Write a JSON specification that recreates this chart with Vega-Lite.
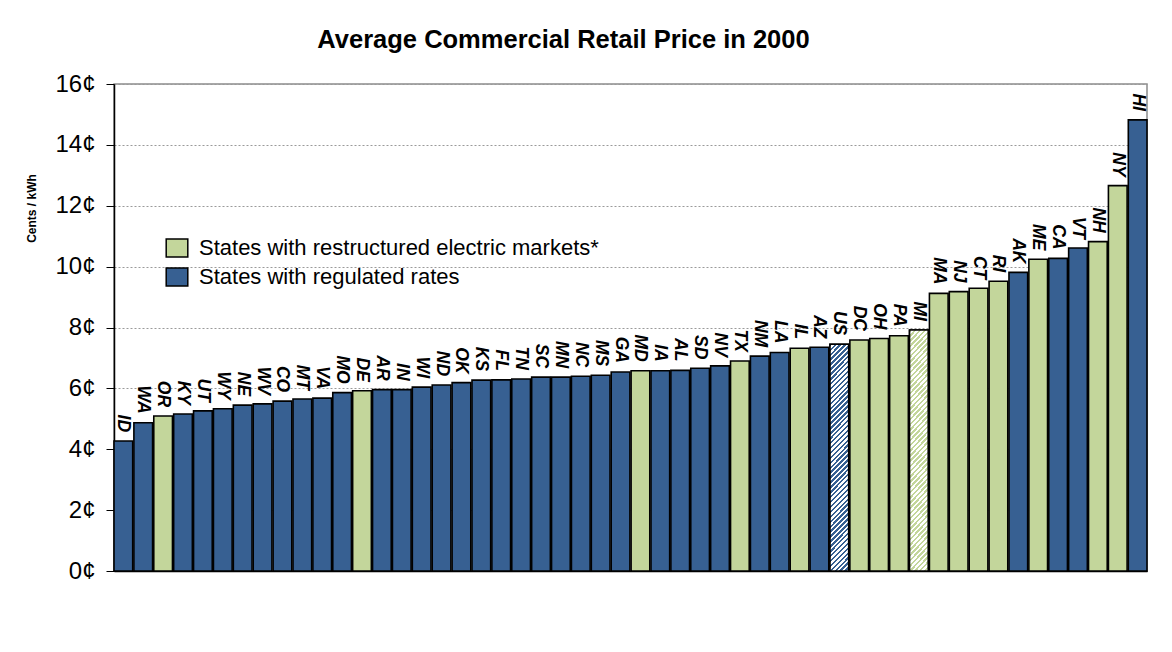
{
  "$schema": "https://vega.github.io/schema/vega-lite/v6.json",
  "autosize": {"type": "none"},
  "padding": {"left": 114, "top": 84, "right": 25, "bottom": 81},
  "width": 1033,
  "height": 487,
  "background": "white",
  "title": {"text": "Average Commercial Retail Price in 2000", "font": "Liberation Sans", "fontSize": 25.5, "fontWeight": "bold", "color": "black", "anchor": "middle", "frame": "group", "dx": -67, "offset": -1, "baseline": "alphabetic"},
  "config": {
    "view": {"stroke": "#8c8c8c", "strokeWidth": 1.5},
    "font": "Liberation Sans"
  },
  "data": {"values": [
    {"state": "ID", "price": 4.27, "market": "States with regulated rates"},
    {"state": "WA", "price": 4.87, "market": "States with regulated rates"},
    {"state": "OR", "price": 5.09, "market": "States with restructured electric markets*"},
    {"state": "KY", "price": 5.16, "market": "States with regulated rates"},
    {"state": "UT", "price": 5.26, "market": "States with regulated rates"},
    {"state": "WY", "price": 5.33, "market": "States with regulated rates"},
    {"state": "NE", "price": 5.45, "market": "States with regulated rates"},
    {"state": "WV", "price": 5.49, "market": "States with regulated rates"},
    {"state": "CO", "price": 5.58, "market": "States with regulated rates"},
    {"state": "MT", "price": 5.65, "market": "States with regulated rates"},
    {"state": "VA", "price": 5.68, "market": "States with regulated rates"},
    {"state": "MO", "price": 5.86, "market": "States with regulated rates"},
    {"state": "DE", "price": 5.92, "market": "States with restructured electric markets*"},
    {"state": "AR", "price": 5.96, "market": "States with regulated rates"},
    {"state": "IN", "price": 5.96, "market": "States with regulated rates"},
    {"state": "WI", "price": 6.04, "market": "States with regulated rates"},
    {"state": "ND", "price": 6.11, "market": "States with regulated rates"},
    {"state": "OK", "price": 6.19, "market": "States with regulated rates"},
    {"state": "KS", "price": 6.27, "market": "States with regulated rates"},
    {"state": "FL", "price": 6.28, "market": "States with regulated rates"},
    {"state": "TN", "price": 6.31, "market": "States with regulated rates"},
    {"state": "SC", "price": 6.37, "market": "States with regulated rates"},
    {"state": "MN", "price": 6.37, "market": "States with regulated rates"},
    {"state": "NC", "price": 6.40, "market": "States with regulated rates"},
    {"state": "MS", "price": 6.43, "market": "States with regulated rates"},
    {"state": "GA", "price": 6.54, "market": "States with regulated rates"},
    {"state": "MD", "price": 6.58, "market": "States with restructured electric markets*"},
    {"state": "IA", "price": 6.58, "market": "States with regulated rates"},
    {"state": "AL", "price": 6.59, "market": "States with regulated rates"},
    {"state": "SD", "price": 6.66, "market": "States with regulated rates"},
    {"state": "NV", "price": 6.74, "market": "States with regulated rates"},
    {"state": "TX", "price": 6.90, "market": "States with restructured electric markets*"},
    {"state": "NM", "price": 7.06, "market": "States with regulated rates"},
    {"state": "LA", "price": 7.18, "market": "States with regulated rates"},
    {"state": "IL", "price": 7.32, "market": "States with restructured electric markets*"},
    {"state": "AZ", "price": 7.35, "market": "States with regulated rates"},
    {"state": "US", "price": 7.45, "market": "States with regulated rates"},
    {"state": "DC", "price": 7.59, "market": "States with restructured electric markets*"},
    {"state": "OH", "price": 7.64, "market": "States with restructured electric markets*"},
    {"state": "PA", "price": 7.73, "market": "States with restructured electric markets*"},
    {"state": "MI", "price": 7.92, "market": "States with restructured electric markets*"},
    {"state": "MA", "price": 9.12, "market": "States with restructured electric markets*"},
    {"state": "NJ", "price": 9.18, "market": "States with restructured electric markets*"},
    {"state": "CT", "price": 9.29, "market": "States with restructured electric markets*"},
    {"state": "RI", "price": 9.52, "market": "States with restructured electric markets*"},
    {"state": "AK", "price": 9.81, "market": "States with regulated rates"},
    {"state": "ME", "price": 10.24, "market": "States with restructured electric markets*"},
    {"state": "CA", "price": 10.27, "market": "States with regulated rates"},
    {"state": "VT", "price": 10.61, "market": "States with regulated rates"},
    {"state": "NH", "price": 10.82, "market": "States with restructured electric markets*"},
    {"state": "NY", "price": 12.66, "market": "States with restructured electric markets*"},
    {"state": "HI", "price": 14.82, "market": "States with regulated rates"}
  ]},
  "encoding": {
    "x": {"field": "state", "type": "nominal", "sort": null, "scale": {"paddingInner": 0.06, "paddingOuter": 0},
      "axis": {"title": null, "labels": false, "ticks": false, "grid": false, "domainColor": "black", "domainWidth": 1.5}},
    "y": {"field": "price", "type": "quantitative", "scale": {"domain": [0, 16], "nice": false},
      "axis": {"title": "Cents / kWh", "titleFont": "Liberation Sans", "titleFontSize": 12, "titleFontWeight": "bold", "titleColor": "black", "titleX": -83, "titleY": 124, "titleBaseline": "middle",
        "values": [0, 2, 4, 6, 8, 10, 12, 14, 16], "labelExpr": "datum.value + '¢'", "labelFont": "Liberation Sans", "labelFontSize": 24, "labelColor": "black", "labelPadding": 11,
        "tickColor": "black", "tickSize": 8, "tickWidth": 1, "domainColor": "black", "domainWidth": 1.5,
        "grid": true, "gridColor": "#9a9a9a", "gridDash": [2, 2], "gridWidth": 1}}
  },
  "layer": [
    {
      "mark": {"type": "bar", "stroke": "black", "strokeWidth": 1.6, "opacity": 1},
      "encoding": {
        "color": {"field": "market", "type": "nominal",
          "scale": {"domain": ["States with restructured electric markets*", "States with regulated rates"], "range": ["#C3D69B", "#376092"]},
          "legend": {"orient": "none", "legendX": 52, "legendY": 153, "title": null, "padding": 0,
            "symbolType": "M-1.2,-1L1.2,-1L1.2,1L-1.2,1Z", "symbolSize": 324, "symbolStrokeColor": "black", "symbolStrokeWidth": 1.5, "symbolOpacity": 1,
            "labelFont": "Liberation Sans", "labelFontSize": 22, "labelColor": "black", "labelOffset": 11, "rowPadding": 5, "labelLimit": 700}}
      }
    },
    {
      "transform": [{"filter": "datum.state == 'US'"}],
      "mark": {"type": "bar", "stroke": "black", "strokeWidth": 1.6, "fill": {"gradient": "linear", "x1": 0, "y1": 0, "x2": 0.0897, "y2": 1.076, "stops": [
        {"offset":0,"color":"#376092"},{"offset":0.01,"color":"#376092"},{"offset":0.01,"color":"#fff"},{"offset":0.02,"color":"#fff"},
        {"offset":0.02,"color":"#376092"},{"offset":0.03,"color":"#376092"},{"offset":0.03,"color":"#fff"},{"offset":0.04,"color":"#fff"},
        {"offset":0.04,"color":"#376092"},{"offset":0.05,"color":"#376092"},{"offset":0.05,"color":"#fff"},{"offset":0.06,"color":"#fff"},
        {"offset":0.06,"color":"#376092"},{"offset":0.07,"color":"#376092"},{"offset":0.07,"color":"#fff"},{"offset":0.08,"color":"#fff"},
        {"offset":0.08,"color":"#376092"},{"offset":0.09,"color":"#376092"},{"offset":0.09,"color":"#fff"},{"offset":0.10,"color":"#fff"},
        {"offset":0.10,"color":"#376092"},{"offset":0.11,"color":"#376092"},{"offset":0.11,"color":"#fff"},{"offset":0.12,"color":"#fff"},
        {"offset":0.12,"color":"#376092"},{"offset":0.13,"color":"#376092"},{"offset":0.13,"color":"#fff"},{"offset":0.14,"color":"#fff"},
        {"offset":0.14,"color":"#376092"},{"offset":0.15,"color":"#376092"},{"offset":0.15,"color":"#fff"},{"offset":0.16,"color":"#fff"},
        {"offset":0.16,"color":"#376092"},{"offset":0.17,"color":"#376092"},{"offset":0.17,"color":"#fff"},{"offset":0.18,"color":"#fff"},
        {"offset":0.18,"color":"#376092"},{"offset":0.19,"color":"#376092"},{"offset":0.19,"color":"#fff"},{"offset":0.20,"color":"#fff"},
        {"offset":0.20,"color":"#376092"},{"offset":0.21,"color":"#376092"},{"offset":0.21,"color":"#fff"},{"offset":0.22,"color":"#fff"},
        {"offset":0.22,"color":"#376092"},{"offset":0.23,"color":"#376092"},{"offset":0.23,"color":"#fff"},{"offset":0.24,"color":"#fff"},
        {"offset":0.24,"color":"#376092"},{"offset":0.25,"color":"#376092"},{"offset":0.25,"color":"#fff"},{"offset":0.26,"color":"#fff"},
        {"offset":0.26,"color":"#376092"},{"offset":0.27,"color":"#376092"},{"offset":0.27,"color":"#fff"},{"offset":0.28,"color":"#fff"},
        {"offset":0.28,"color":"#376092"},{"offset":0.29,"color":"#376092"},{"offset":0.29,"color":"#fff"},{"offset":0.30,"color":"#fff"},
        {"offset":0.30,"color":"#376092"},{"offset":0.31,"color":"#376092"},{"offset":0.31,"color":"#fff"},{"offset":0.32,"color":"#fff"},
        {"offset":0.32,"color":"#376092"},{"offset":0.33,"color":"#376092"},{"offset":0.33,"color":"#fff"},{"offset":0.34,"color":"#fff"},
        {"offset":0.34,"color":"#376092"},{"offset":0.35,"color":"#376092"},{"offset":0.35,"color":"#fff"},{"offset":0.36,"color":"#fff"},
        {"offset":0.36,"color":"#376092"},{"offset":0.37,"color":"#376092"},{"offset":0.37,"color":"#fff"},{"offset":0.38,"color":"#fff"},
        {"offset":0.38,"color":"#376092"},{"offset":0.39,"color":"#376092"},{"offset":0.39,"color":"#fff"},{"offset":0.40,"color":"#fff"},
        {"offset":0.40,"color":"#376092"},{"offset":0.41,"color":"#376092"},{"offset":0.41,"color":"#fff"},{"offset":0.42,"color":"#fff"},
        {"offset":0.42,"color":"#376092"},{"offset":0.43,"color":"#376092"},{"offset":0.43,"color":"#fff"},{"offset":0.44,"color":"#fff"},
        {"offset":0.44,"color":"#376092"},{"offset":0.45,"color":"#376092"},{"offset":0.45,"color":"#fff"},{"offset":0.46,"color":"#fff"},
        {"offset":0.46,"color":"#376092"},{"offset":0.47,"color":"#376092"},{"offset":0.47,"color":"#fff"},{"offset":0.48,"color":"#fff"},
        {"offset":0.48,"color":"#376092"},{"offset":0.49,"color":"#376092"},{"offset":0.49,"color":"#fff"},{"offset":0.50,"color":"#fff"},
        {"offset":0.50,"color":"#376092"},{"offset":0.51,"color":"#376092"},{"offset":0.51,"color":"#fff"},{"offset":0.52,"color":"#fff"},
        {"offset":0.52,"color":"#376092"},{"offset":0.53,"color":"#376092"},{"offset":0.53,"color":"#fff"},{"offset":0.54,"color":"#fff"},
        {"offset":0.54,"color":"#376092"},{"offset":0.55,"color":"#376092"},{"offset":0.55,"color":"#fff"},{"offset":0.56,"color":"#fff"},
        {"offset":0.56,"color":"#376092"},{"offset":0.57,"color":"#376092"},{"offset":0.57,"color":"#fff"},{"offset":0.58,"color":"#fff"},
        {"offset":0.58,"color":"#376092"},{"offset":0.59,"color":"#376092"},{"offset":0.59,"color":"#fff"},{"offset":0.60,"color":"#fff"},
        {"offset":0.60,"color":"#376092"},{"offset":0.61,"color":"#376092"},{"offset":0.61,"color":"#fff"},{"offset":0.62,"color":"#fff"},
        {"offset":0.62,"color":"#376092"},{"offset":0.63,"color":"#376092"},{"offset":0.63,"color":"#fff"},{"offset":0.64,"color":"#fff"},
        {"offset":0.64,"color":"#376092"},{"offset":0.65,"color":"#376092"},{"offset":0.65,"color":"#fff"},{"offset":0.66,"color":"#fff"},
        {"offset":0.66,"color":"#376092"},{"offset":0.67,"color":"#376092"},{"offset":0.67,"color":"#fff"},{"offset":0.68,"color":"#fff"},
        {"offset":0.68,"color":"#376092"},{"offset":0.69,"color":"#376092"},{"offset":0.69,"color":"#fff"},{"offset":0.70,"color":"#fff"},
        {"offset":0.70,"color":"#376092"},{"offset":0.71,"color":"#376092"},{"offset":0.71,"color":"#fff"},{"offset":0.72,"color":"#fff"},
        {"offset":0.72,"color":"#376092"},{"offset":0.73,"color":"#376092"},{"offset":0.73,"color":"#fff"},{"offset":0.74,"color":"#fff"},
        {"offset":0.74,"color":"#376092"},{"offset":0.75,"color":"#376092"},{"offset":0.75,"color":"#fff"},{"offset":0.76,"color":"#fff"},
        {"offset":0.76,"color":"#376092"},{"offset":0.77,"color":"#376092"},{"offset":0.77,"color":"#fff"},{"offset":0.78,"color":"#fff"},
        {"offset":0.78,"color":"#376092"},{"offset":0.79,"color":"#376092"},{"offset":0.79,"color":"#fff"},{"offset":0.80,"color":"#fff"},
        {"offset":0.80,"color":"#376092"},{"offset":0.81,"color":"#376092"},{"offset":0.81,"color":"#fff"},{"offset":0.82,"color":"#fff"},
        {"offset":0.82,"color":"#376092"},{"offset":0.83,"color":"#376092"},{"offset":0.83,"color":"#fff"},{"offset":0.84,"color":"#fff"},
        {"offset":0.84,"color":"#376092"},{"offset":0.85,"color":"#376092"},{"offset":0.85,"color":"#fff"},{"offset":0.86,"color":"#fff"},
        {"offset":0.86,"color":"#376092"},{"offset":0.87,"color":"#376092"},{"offset":0.87,"color":"#fff"},{"offset":0.88,"color":"#fff"},
        {"offset":0.88,"color":"#376092"},{"offset":0.89,"color":"#376092"},{"offset":0.89,"color":"#fff"},{"offset":0.90,"color":"#fff"},
        {"offset":0.90,"color":"#376092"},{"offset":0.91,"color":"#376092"},{"offset":0.91,"color":"#fff"},{"offset":0.92,"color":"#fff"},
        {"offset":0.92,"color":"#376092"},{"offset":0.93,"color":"#376092"},{"offset":0.93,"color":"#fff"},{"offset":0.94,"color":"#fff"},
        {"offset":0.94,"color":"#376092"},{"offset":0.95,"color":"#376092"},{"offset":0.95,"color":"#fff"},{"offset":0.96,"color":"#fff"},
        {"offset":0.96,"color":"#376092"},{"offset":0.97,"color":"#376092"},{"offset":0.97,"color":"#fff"},{"offset":0.98,"color":"#fff"},
        {"offset":0.98,"color":"#376092"},{"offset":0.99,"color":"#376092"},{"offset":0.99,"color":"#fff"},{"offset":1,"color":"#fff"}
      ]}}
    },
    {
      "transform": [{"filter": "datum.state == 'MI'"}],
      "mark": {"type": "bar", "stroke": "black", "strokeWidth": 1.6, "fill": {"gradient": "linear", "x1": 0, "y1": 0, "x2": 0.0897, "y2": 1.076, "stops": [
        {"offset":0,"color":"#C3D69B"},{"offset":0.01,"color":"#C3D69B"},{"offset":0.01,"color":"#fff"},{"offset":0.02,"color":"#fff"},
        {"offset":0.02,"color":"#C3D69B"},{"offset":0.03,"color":"#C3D69B"},{"offset":0.03,"color":"#fff"},{"offset":0.04,"color":"#fff"},
        {"offset":0.04,"color":"#C3D69B"},{"offset":0.05,"color":"#C3D69B"},{"offset":0.05,"color":"#fff"},{"offset":0.06,"color":"#fff"},
        {"offset":0.06,"color":"#C3D69B"},{"offset":0.07,"color":"#C3D69B"},{"offset":0.07,"color":"#fff"},{"offset":0.08,"color":"#fff"},
        {"offset":0.08,"color":"#C3D69B"},{"offset":0.09,"color":"#C3D69B"},{"offset":0.09,"color":"#fff"},{"offset":0.10,"color":"#fff"},
        {"offset":0.10,"color":"#C3D69B"},{"offset":0.11,"color":"#C3D69B"},{"offset":0.11,"color":"#fff"},{"offset":0.12,"color":"#fff"},
        {"offset":0.12,"color":"#C3D69B"},{"offset":0.13,"color":"#C3D69B"},{"offset":0.13,"color":"#fff"},{"offset":0.14,"color":"#fff"},
        {"offset":0.14,"color":"#C3D69B"},{"offset":0.15,"color":"#C3D69B"},{"offset":0.15,"color":"#fff"},{"offset":0.16,"color":"#fff"},
        {"offset":0.16,"color":"#C3D69B"},{"offset":0.17,"color":"#C3D69B"},{"offset":0.17,"color":"#fff"},{"offset":0.18,"color":"#fff"},
        {"offset":0.18,"color":"#C3D69B"},{"offset":0.19,"color":"#C3D69B"},{"offset":0.19,"color":"#fff"},{"offset":0.20,"color":"#fff"},
        {"offset":0.20,"color":"#C3D69B"},{"offset":0.21,"color":"#C3D69B"},{"offset":0.21,"color":"#fff"},{"offset":0.22,"color":"#fff"},
        {"offset":0.22,"color":"#C3D69B"},{"offset":0.23,"color":"#C3D69B"},{"offset":0.23,"color":"#fff"},{"offset":0.24,"color":"#fff"},
        {"offset":0.24,"color":"#C3D69B"},{"offset":0.25,"color":"#C3D69B"},{"offset":0.25,"color":"#fff"},{"offset":0.26,"color":"#fff"},
        {"offset":0.26,"color":"#C3D69B"},{"offset":0.27,"color":"#C3D69B"},{"offset":0.27,"color":"#fff"},{"offset":0.28,"color":"#fff"},
        {"offset":0.28,"color":"#C3D69B"},{"offset":0.29,"color":"#C3D69B"},{"offset":0.29,"color":"#fff"},{"offset":0.30,"color":"#fff"},
        {"offset":0.30,"color":"#C3D69B"},{"offset":0.31,"color":"#C3D69B"},{"offset":0.31,"color":"#fff"},{"offset":0.32,"color":"#fff"},
        {"offset":0.32,"color":"#C3D69B"},{"offset":0.33,"color":"#C3D69B"},{"offset":0.33,"color":"#fff"},{"offset":0.34,"color":"#fff"},
        {"offset":0.34,"color":"#C3D69B"},{"offset":0.35,"color":"#C3D69B"},{"offset":0.35,"color":"#fff"},{"offset":0.36,"color":"#fff"},
        {"offset":0.36,"color":"#C3D69B"},{"offset":0.37,"color":"#C3D69B"},{"offset":0.37,"color":"#fff"},{"offset":0.38,"color":"#fff"},
        {"offset":0.38,"color":"#C3D69B"},{"offset":0.39,"color":"#C3D69B"},{"offset":0.39,"color":"#fff"},{"offset":0.40,"color":"#fff"},
        {"offset":0.40,"color":"#C3D69B"},{"offset":0.41,"color":"#C3D69B"},{"offset":0.41,"color":"#fff"},{"offset":0.42,"color":"#fff"},
        {"offset":0.42,"color":"#C3D69B"},{"offset":0.43,"color":"#C3D69B"},{"offset":0.43,"color":"#fff"},{"offset":0.44,"color":"#fff"},
        {"offset":0.44,"color":"#C3D69B"},{"offset":0.45,"color":"#C3D69B"},{"offset":0.45,"color":"#fff"},{"offset":0.46,"color":"#fff"},
        {"offset":0.46,"color":"#C3D69B"},{"offset":0.47,"color":"#C3D69B"},{"offset":0.47,"color":"#fff"},{"offset":0.48,"color":"#fff"},
        {"offset":0.48,"color":"#C3D69B"},{"offset":0.49,"color":"#C3D69B"},{"offset":0.49,"color":"#fff"},{"offset":0.50,"color":"#fff"},
        {"offset":0.50,"color":"#C3D69B"},{"offset":0.51,"color":"#C3D69B"},{"offset":0.51,"color":"#fff"},{"offset":0.52,"color":"#fff"},
        {"offset":0.52,"color":"#C3D69B"},{"offset":0.53,"color":"#C3D69B"},{"offset":0.53,"color":"#fff"},{"offset":0.54,"color":"#fff"},
        {"offset":0.54,"color":"#C3D69B"},{"offset":0.55,"color":"#C3D69B"},{"offset":0.55,"color":"#fff"},{"offset":0.56,"color":"#fff"},
        {"offset":0.56,"color":"#C3D69B"},{"offset":0.57,"color":"#C3D69B"},{"offset":0.57,"color":"#fff"},{"offset":0.58,"color":"#fff"},
        {"offset":0.58,"color":"#C3D69B"},{"offset":0.59,"color":"#C3D69B"},{"offset":0.59,"color":"#fff"},{"offset":0.60,"color":"#fff"},
        {"offset":0.60,"color":"#C3D69B"},{"offset":0.61,"color":"#C3D69B"},{"offset":0.61,"color":"#fff"},{"offset":0.62,"color":"#fff"},
        {"offset":0.62,"color":"#C3D69B"},{"offset":0.63,"color":"#C3D69B"},{"offset":0.63,"color":"#fff"},{"offset":0.64,"color":"#fff"},
        {"offset":0.64,"color":"#C3D69B"},{"offset":0.65,"color":"#C3D69B"},{"offset":0.65,"color":"#fff"},{"offset":0.66,"color":"#fff"},
        {"offset":0.66,"color":"#C3D69B"},{"offset":0.67,"color":"#C3D69B"},{"offset":0.67,"color":"#fff"},{"offset":0.68,"color":"#fff"},
        {"offset":0.68,"color":"#C3D69B"},{"offset":0.69,"color":"#C3D69B"},{"offset":0.69,"color":"#fff"},{"offset":0.70,"color":"#fff"},
        {"offset":0.70,"color":"#C3D69B"},{"offset":0.71,"color":"#C3D69B"},{"offset":0.71,"color":"#fff"},{"offset":0.72,"color":"#fff"},
        {"offset":0.72,"color":"#C3D69B"},{"offset":0.73,"color":"#C3D69B"},{"offset":0.73,"color":"#fff"},{"offset":0.74,"color":"#fff"},
        {"offset":0.74,"color":"#C3D69B"},{"offset":0.75,"color":"#C3D69B"},{"offset":0.75,"color":"#fff"},{"offset":0.76,"color":"#fff"},
        {"offset":0.76,"color":"#C3D69B"},{"offset":0.77,"color":"#C3D69B"},{"offset":0.77,"color":"#fff"},{"offset":0.78,"color":"#fff"},
        {"offset":0.78,"color":"#C3D69B"},{"offset":0.79,"color":"#C3D69B"},{"offset":0.79,"color":"#fff"},{"offset":0.80,"color":"#fff"},
        {"offset":0.80,"color":"#C3D69B"},{"offset":0.81,"color":"#C3D69B"},{"offset":0.81,"color":"#fff"},{"offset":0.82,"color":"#fff"},
        {"offset":0.82,"color":"#C3D69B"},{"offset":0.83,"color":"#C3D69B"},{"offset":0.83,"color":"#fff"},{"offset":0.84,"color":"#fff"},
        {"offset":0.84,"color":"#C3D69B"},{"offset":0.85,"color":"#C3D69B"},{"offset":0.85,"color":"#fff"},{"offset":0.86,"color":"#fff"},
        {"offset":0.86,"color":"#C3D69B"},{"offset":0.87,"color":"#C3D69B"},{"offset":0.87,"color":"#fff"},{"offset":0.88,"color":"#fff"},
        {"offset":0.88,"color":"#C3D69B"},{"offset":0.89,"color":"#C3D69B"},{"offset":0.89,"color":"#fff"},{"offset":0.90,"color":"#fff"},
        {"offset":0.90,"color":"#C3D69B"},{"offset":0.91,"color":"#C3D69B"},{"offset":0.91,"color":"#fff"},{"offset":0.92,"color":"#fff"},
        {"offset":0.92,"color":"#C3D69B"},{"offset":0.93,"color":"#C3D69B"},{"offset":0.93,"color":"#fff"},{"offset":0.94,"color":"#fff"},
        {"offset":0.94,"color":"#C3D69B"},{"offset":0.95,"color":"#C3D69B"},{"offset":0.95,"color":"#fff"},{"offset":0.96,"color":"#fff"},
        {"offset":0.96,"color":"#C3D69B"},{"offset":0.97,"color":"#C3D69B"},{"offset":0.97,"color":"#fff"},{"offset":0.98,"color":"#fff"},
        {"offset":0.98,"color":"#C3D69B"},{"offset":0.99,"color":"#C3D69B"},{"offset":0.99,"color":"#fff"},{"offset":1,"color":"#fff"}
      ]}}
    },
    {
      "mark": {"type": "text", "angle": 90, "align": "right", "baseline": "middle", "dx": -9, "font": "Liberation Sans", "fontSize": 17.5, "fontWeight": "bold", "fontStyle": "italic", "color": "black"},
      "encoding": {"text": {"field": "state"}}
    }
  ]
}
